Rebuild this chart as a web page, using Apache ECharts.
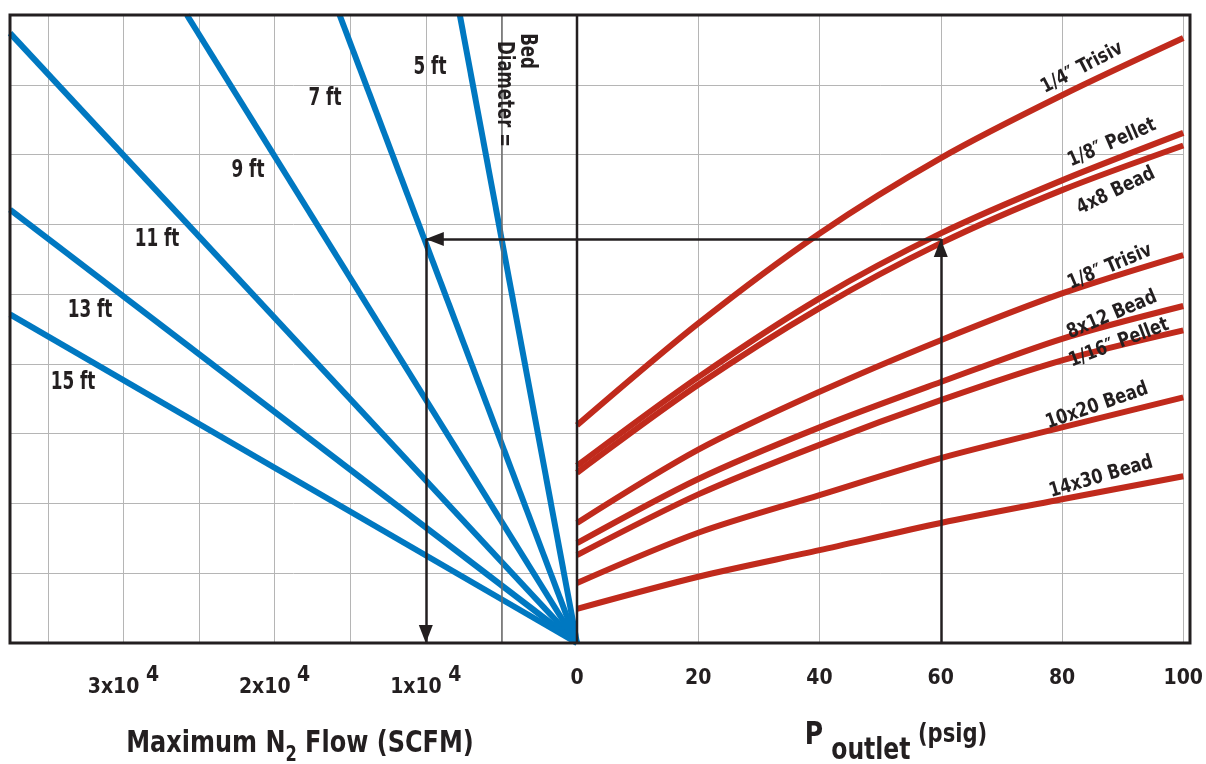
<!DOCTYPE html>
<html>
<head>
<meta charset="utf-8">
<style>
  html, body { margin: 0; padding: 0; background: #fff; }
  #chart { width: 1206px; height: 764px; }
</style>
<script src="https://cdn.jsdelivr.net/npm/echarts@6/dist/echarts.min.js"></script>
</head>
<body>
<div id="chart"></div>
<script>
// right half: outlet pressure (psig) vs. chart level (unitless, 0..9 grid rows)
const pressure = [0, 20, 40, 60, 80, 100];
const sieveNames = ['1/4″ Trisiv', '1/8″ Pellet', '4x8 Bead', '1/8″ Trisiv', '8x12 Bead', '1/16″ Pellet', '10x20 Bead', '14x30 Bead'];
const trisiv14 = [3.12, 4.58, 5.87, 6.95, 7.85, 8.67];
const pellet18 = [2.54, 3.81, 4.94, 5.87, 6.63, 7.31];
const bead4x8 = [2.44, 3.70, 4.80, 5.73, 6.49, 7.13];
const trisiv18 = [1.72, 2.77, 3.60, 4.34, 5.01, 5.56];
const bead8x12 = [1.43, 2.35, 3.09, 3.74, 4.36, 4.83];
const pellet116 = [1.26, 2.13, 2.84, 3.48, 4.05, 4.48];
const bead10x20 = [0.86, 1.58, 2.12, 2.65, 3.09, 3.52];
const bead14x30 = [0.49, 0.95, 1.33, 1.72, 2.06, 2.39];
const sieveCurves = [trisiv14, pellet18, bead4x8, trisiv18, bead8x12, pellet116, bead10x20, bead14x30];

// left half: straight lines from the origin, one per bed diameter
const bedNames = ['5 ft', '7 ft', '9 ft', '11 ft', '13 ft', '15 ft'];
const bedFlowEnd = [7750, 15700, 25800, 37500, 37500, 37500];   // SCFM where the line leaves the plot
const bedLevelEnd = [9, 9, 9, 8.74, 6.21, 4.71];

// worked example: 60 psig -> 4x8 Bead -> 7 ft -> ~1x10^4 SCFM
const exampleP = 60;
const exampleLevel = 5.79;
const exampleFlow = 10000;

const flowMax = 37500;
const levelMax = 9;

const FONT = '"DejaVu Sans Condensed", "DejaVu Sans", sans-serif';
const RED = '#c02a1c';
const BLUE = '#0078c1';
const INK = '#231f20';
const GRID = '#b5b5b5';

const chart = echarts.init(document.getElementById('chart'));

const yAxisBase = {
  type: 'value', min: 0, max: levelMax, interval: 1,
  axisLine: { show: false }, axisTick: { show: false }, axisLabel: { show: false },
  splitLine: { lineStyle: { color: GRID, width: 1 } }
};

const series = [];

bedNames.forEach((name, i) => {
  series.push({
    name: name, type: 'line', xAxisIndex: 0, yAxisIndex: 0,
    data: [[0, 0], [bedFlowEnd[i], bedLevelEnd[i]]],
    symbol: 'none', silent: true, z: 3,
    lineStyle: { color: BLUE, width: 6, cap: 'butt' }
  });
});

sieveNames.forEach((name, i) => {
  series.push({
    name: name, type: 'line', xAxisIndex: 1, yAxisIndex: 1,
    data: pressure.map((p, j) => [p, sieveCurves[i][j]]),
    smooth: 0.3, symbol: 'none', silent: true, z: 3,
    lineStyle: { color: RED, width: 6 }
  });
});

const arrowLine = { color: INK, width: 2.5, type: 'solid' };

// darker reference line at 5000 SCFM + example arrows (left grid)
series.push({
  type: 'line', xAxisIndex: 0, yAxisIndex: 0, data: [], silent: true, z: 2,
  markLine: {
    silent: true, symbol: 'none', label: { show: false }, animation: false,
    lineStyle: { color: '#6b6b6b', width: 1.5, type: 'solid' },
    data: [{ xAxis: 5000 }]
  }
});
series.push({
  type: 'line', xAxisIndex: 0, yAxisIndex: 0, data: [], silent: true, z: 5,
  markLine: {
    silent: true, symbol: ['none', 'triangle'], symbolSize: [14, 18], symbolOffset: [0, [0, 9]],
    animation: false, label: { show: false }, lineStyle: arrowLine,
    data: [
      [{ coord: [0, exampleLevel] }, { coord: [exampleFlow, exampleLevel] }],
      [{ coord: [exampleFlow, exampleLevel] }, { coord: [exampleFlow, 0] }]
    ]
  }
});
series.push({
  type: 'line', xAxisIndex: 1, yAxisIndex: 1, data: [], silent: true, z: 5,
  markLine: {
    silent: true, symbol: ['none', 'triangle'], symbolSize: [14, 18], symbolOffset: [0, [0, 9]],
    animation: false, label: { show: false }, lineStyle: arrowLine,
    data: [
      [{ coord: [exampleP, 0] }, { coord: [exampleP, exampleLevel] }],
      [{ coord: [exampleP, exampleLevel], symbol: 'none' }, { coord: [0, exampleLevel], symbol: 'none' }]
    ]
  }
});

const tickLabel = { fontFamily: FONT, fontWeight: 'bold', fontSize: 21, color: INK };

// text annotations: [text, x, y, angle(deg)]
const sieveLabels = [
  ['1/4″ Trisiv', 1082, 68, 27.5],
  ['1/8″ Pellet', 1112, 143, 23.6],
  ['4x8 Bead', 1116, 191, 26],
  ['1/8″ Trisiv', 1110, 267, 23],
  ['8x12 Bead', 1112, 315, 23],
  ['1/16″ Pellet', 1119, 343, 21],
  ['10x20 Bead', 1097, 406, 19.3],
  ['14x30 Bead', 1101, 477, 16.4]
];
const bedLabels = [
  ['5 ft', 430, 68], ['7 ft', 325, 99], ['9 ft', 248, 171],
  ['11 ft', 157, 240], ['13 ft', 90, 311], ['15 ft', 73, 383]
];

const graphic = [];
sieveLabels.forEach(([t, x, y, a]) => {
  graphic.push({
    type: 'text', x: x, y: y, rotation: a * Math.PI / 180, scaleX: 0.9, z: 10,
    style: { text: t, fill: INK, font: 'bold 20px ' + FONT, align: 'center', verticalAlign: 'middle' }
  });
});
bedLabels.forEach(([t, x, y]) => {
  graphic.push({
    type: 'text', x: x, y: y, scaleX: 0.78, z: 10,
    style: { text: t, fill: INK, font: 'bold 24px ' + FONT, align: 'center', verticalAlign: 'middle' }
  });
});
graphic.push({
  type: 'text', x: 527, y: 51, rotation: -Math.PI / 2, scaleX: 0.8, z: 10,
  style: { text: 'Bed', fill: INK, font: 'bold 23px ' + FONT, align: 'center', verticalAlign: 'middle' }
});
graphic.push({
  type: 'text', x: 504, y: 94, rotation: -Math.PI / 2, scaleX: 0.8, z: 10,
  style: { text: 'Diameter =', fill: INK, font: 'bold 23px ' + FONT, align: 'center', verticalAlign: 'middle' }
});
graphic.push({
  type: 'text', x: 300, y: 744, scaleX: 0.86, z: 10,
  style: {
    text: '{a|Maximum N}{s|2}{a| Flow (SCFM)}', align: 'center', verticalAlign: 'middle',
    rich: {
      a: { fontFamily: FONT, fontWeight: 'bold', fontSize: 31, fill: INK, verticalAlign: 'bottom' },
      s: { fontFamily: FONT, fontWeight: 'bold', fontSize: 21, fill: INK, verticalAlign: 'bottom', padding: [0, 0, -7, 0] }
    }
  }
});
graphic.push({
  type: 'text', x: 896, y: 740, scaleX: 0.87, z: 10,
  style: {
    text: '{p|P}{o| outlet}{u| (psig)}', align: 'center', verticalAlign: 'middle',
    rich: {
      p: { fontFamily: FONT, fontWeight: 'bold', fontSize: 32, fill: INK, verticalAlign: 'bottom', padding: [0, 0, 9, 0] },
      o: { fontFamily: FONT, fontWeight: 'bold', fontSize: 30, fill: INK, verticalAlign: 'bottom', padding: [0, 0, -6, 0] },
      u: { fontFamily: FONT, fontWeight: 'bold', fontSize: 27, fill: INK, verticalAlign: 'bottom', padding: [0, 0, 12, 0] }
    }
  }
});
// plot frame and the zero divider drawn over the split lines
graphic.push({
  type: 'rect', shape: { x: 10, y: 15, width: 1180, height: 628 }, z: 20, silent: true,
  style: { fill: 'none', stroke: INK, lineWidth: 3 }
});
graphic.push({
  type: 'line', shape: { x1: 577, y1: 15, x2: 577, y2: 643 }, z: 20, silent: true,
  style: { stroke: INK, lineWidth: 2.5 }
});

chart.setOption({
  animation: false,
  backgroundColor: '#fff',
  grid: [
    { left: 10, top: 15, width: 567, height: 628, containLabel: false },
    { left: 577, top: 15, width: 613, height: 628, containLabel: false }
  ],
  xAxis: [
    {
      type: 'value', gridIndex: 0, inverse: true, min: 0, max: flowMax, interval: 5000,
      axisLine: { show: false }, axisTick: { show: false },
      splitLine: { lineStyle: { color: GRID, width: 1 } },
      axisLabel: Object.assign({}, tickLabel, {
        margin: 22, showMaxLabel: false,
        formatter: v => (v > 0 && v % 10000 === 0) ? '{m|' + (v / 10000) + 'x10 }{e|4}' : '',
        rich: {
          m: { fontFamily: FONT, fontWeight: 'bold', fontSize: 21, color: INK, verticalAlign: 'bottom' },
          e: { fontFamily: FONT, fontWeight: 'bold', fontSize: 21, color: INK, verticalAlign: 'bottom', padding: [0, 0, 12, 0] }
        }
      })
    },
    {
      type: 'value', gridIndex: 1, min: 0, max: 100, interval: 20,
      axisLine: { show: false }, axisTick: { show: false },
      splitLine: { lineStyle: { color: GRID, width: 1 } },
      axisLabel: Object.assign({}, tickLabel, { margin: 25 })
    }
  ],
  yAxis: [
    Object.assign({ gridIndex: 0 }, yAxisBase),
    Object.assign({ gridIndex: 1 }, yAxisBase)
  ],
  series: series,
  graphic: graphic
});
</script>
</body>
</html>
